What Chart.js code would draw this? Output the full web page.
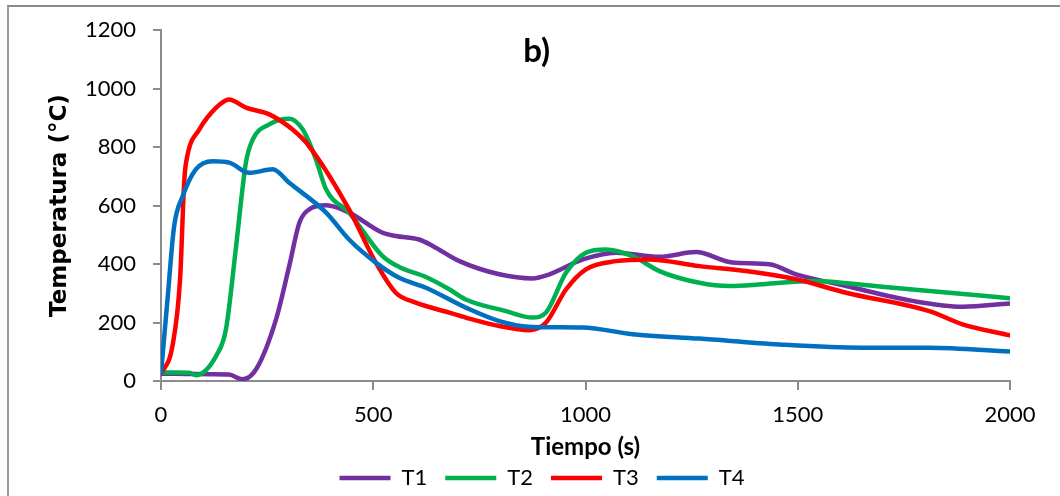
<!DOCTYPE html>
<html>
<head>
<meta charset="utf-8">
<script src="https://cdn.jsdelivr.net/npm/chart.js@4.4.1/dist/chart.umd.min.js"></script>
<style>
  html, body { margin: 0; padding: 0; background: #fff; overflow: hidden; width: 1060px; height: 496px; }
  #frame { position: absolute; left: 7px; top: 5px; width: 1060px; height: 500px; border-left: 2px solid #9a9a9a; border-top: 2px solid #8a8a8a; }
  #wrap { position: absolute; left: 0; top: 0; width: 1060px; height: 499px; }
</style>
</head>
<body>
<div id="frame"></div>
<div id="wrap"><canvas id="c" width="1060" height="499"></canvas></div>
<script>
// ---- data ----
const seriesNames = ['T1', 'T2', 'T3', 'T4'];
const seriesColors = ['#7030A0', '#00B050', '#FF0000', '#0070C0'];

const t1Time = [0, 60, 120, 160, 192, 224, 271, 302, 326, 349, 389, 443, 522, 553, 608, 640, 703, 797, 875, 915, 994, 1072, 1174, 1260, 1346, 1433, 1496, 1614, 1771, 1888, 2000];
const t1Temp = [25, 24, 23, 22, 6, 40, 211, 393, 541, 587, 601, 576, 507, 496, 484, 462, 410, 365, 351, 365, 416, 439, 425, 441, 405, 399, 365, 325, 274, 254, 265];

const t2Time = [0, 40, 67, 82, 130, 153, 177, 200, 216, 255, 302, 334, 365, 389, 443, 522, 561, 624, 679, 718, 813, 875, 907, 954, 1001, 1048, 1111, 1174, 1268, 1339, 1417, 1535, 1692, 1810, 2000];
const t2Temp = [29, 29, 28, 20, 86, 177, 462, 747, 826, 878, 897, 860, 758, 655, 576, 427, 390, 356, 314, 279, 239, 217, 234, 370, 439, 450, 427, 376, 336, 325, 331, 342, 323, 308, 283];

const t3Time = [0, 27, 45, 55, 62, 90, 130, 160, 200, 255, 310, 349, 443, 506, 553, 600, 679, 718, 797, 868, 907, 954, 1001, 1072, 1150, 1268, 1378, 1496, 1614, 1810, 1888, 2000];
const t3Temp = [23, 120, 350, 690, 770, 860, 935, 963, 935, 912, 860, 803, 587, 405, 302, 268, 234, 217, 188, 174, 200, 313, 382, 410, 416, 393, 376, 348, 302, 239, 194, 156];

const t4Time = [0, 16, 31, 51, 82, 122, 161, 208, 263, 302, 389, 443, 506, 561, 624, 718, 797, 875, 993, 1111, 1268, 1457, 1653, 1810, 2000];
const t4Temp = [25, 291, 530, 632, 724, 752, 747, 712, 724, 678, 576, 484, 405, 353, 319, 251, 205, 185, 183, 160, 145, 125, 114, 114, 101];

const xTicks = [0, 500, 1000, 1500, 2000];
const yTicks = [0, 200, 400, 600, 800, 1000, 1200];

const panelLabel = 'b)';
const xTitle = 'Tiempo (s)';
const yTitle = 'Temperatura (°C)';
// ---------------------------------------

const times = [t1Time, t2Time, t3Time, t4Time];
const temps = [t1Temp, t2Temp, t3Temp, t4Temp];

const datasets = seriesNames.map((name, i) => ({
  label: name,
  data: times[i].map((t, k) => ({ x: t, y: temps[i][k] })),
  borderColor: seriesColors[i],
  backgroundColor: seriesColors[i],
  borderWidth: 4.5,
  borderCapStyle: 'round',
  borderJoinStyle: 'round',
  pointRadius: 0,
  pointHoverRadius: 0,
  fill: false,
  cubicInterpolationMode: 'monotone',
  order: seriesNames.length - i
}));

const panelLabelPlugin = {
  id: 'panelLabel',
  afterDatasetsDraw(chart) {
    const { ctx, scales } = chart;
    ctx.save();
    ctx.font = 'bold 33px Lato';
    ctx.fillStyle = '#000';
    ctx.textAlign = 'center';
    ctx.textBaseline = 'middle';
    ctx.fillText(panelLabel, scales.x.getPixelForValue(885), scales.y.getPixelForValue(1128));
    ctx.restore();
  }
};

const axisGray = '#8c8c8c';
const plainNumber = (v) => String(v);

new Chart(document.getElementById('c'), {
  type: 'line',
  data: { datasets },
  plugins: [panelLabelPlugin],
  options: {
    responsive: false,
    animation: false,
    devicePixelRatio: 1,
    layout: { padding: { left: 74, right: 50, top: 30, bottom: 0 } },
    plugins: {
      tooltip: { enabled: false },
      title: { display: false },
      legend: {
        display: true,
        position: 'bottom',
        labels: {
          usePointStyle: true,
          pointStyle: 'line',
          pointStyleWidth: 51,
          padding: 18,
          color: '#000',
          font: { family: 'Lato', size: 22 },
          sort: (a, b) => a.datasetIndex - b.datasetIndex
        }
      }
    },
    scales: {
      x: {
        type: 'linear',
        min: 0,
        max: 2000,
        afterBuildTicks: (s) => { s.ticks = xTicks.map(v => ({ value: v })); },
        afterFit: (s) => { s.height = 68; },
        border: { display: true, color: axisGray, width: 2 },
        grid: { display: true, drawOnChartArea: false, drawTicks: true, tickLength: 9, color: axisGray, lineWidth: 2 },
        ticks: { color: '#000', font: { family: 'Lato', size: 22 }, padding: 12, maxRotation: 0, callback: plainNumber },
        title: { display: true, text: xTitle, color: '#000', font: { family: 'Lato', size: 24, weight: 'bold' }, padding: { top: 0, bottom: -13 } }
      },
      y: {
        type: 'linear',
        min: 0,
        max: 1200,
        afterBuildTicks: (s) => { s.ticks = yTicks.map(v => ({ value: v })); },
        afterFit: (s) => { s.width = 87; },
        border: { display: true, color: axisGray, width: 2 },
        grid: { display: true, drawOnChartArea: false, drawTicks: true, tickLength: 8, color: axisGray, lineWidth: 2 },
        ticks: { color: '#000', font: { family: 'Lato', size: 22 }, padding: 17, callback: plainNumber },
        title: { display: true, text: yTitle, color: '#000', font: { family: 'DejaVu Sans', size: 23, weight: 'bold' }, padding: { top: -28, bottom: 0 } }
      }
    }
  }
});
</script>
</body>
</html>
